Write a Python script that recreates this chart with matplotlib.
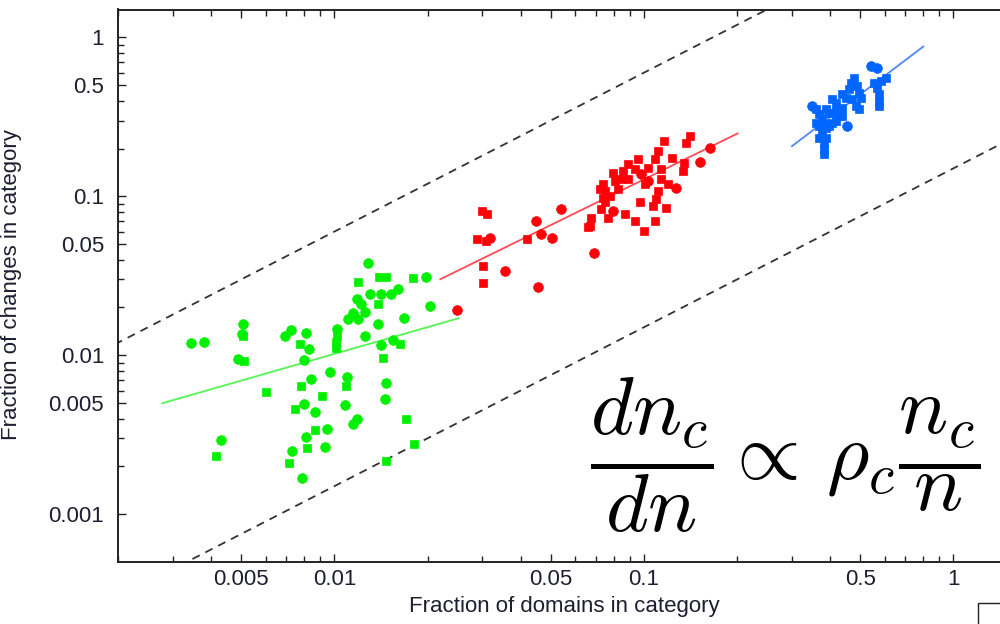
import matplotlib

matplotlib.use("Agg")
import matplotlib.pyplot as plt
import numpy as np
from matplotlib.patches import Rectangle
from matplotlib.ticker import FixedLocator, FuncFormatter, NullFormatter

plt.rcParams["font.family"] = ["Liberation Sans", "DejaVu Sans"]
plt.rcParams["mathtext.fontset"] = "cm"

# small categories (green)
green_sq_x = [0.00508, 0.00512, 0.00603, 0.00416, 0.00776, 0.00782, 0.00748, 0.00868,
              0.00818, 0.00716, 0.0119, 0.0139, 0.0147, 0.0179, 0.0138, 0.0102, 0.01015,
              0.01015, 0.0163, 0.0144, 0.0109, 0.00915, 0.0170, 0.0181, 0.0147]
green_sq_y = [0.0132, 0.00917, 0.00585, 0.00234, 0.0117, 0.00638, 0.00457, 0.00337,
              0.00259, 0.00209, 0.0288, 0.031, 0.031, 0.0306, 0.021, 0.0132, 0.0122,
              0.0111, 0.0117, 0.00957, 0.00638, 0.00552, 0.00395, 0.00275, 0.00215]
green_ci_x = [0.00345, 0.0038, 0.00508, 0.00505, 0.0049, 0.00431, 0.00726, 0.00695,
              0.00812, 0.0083, 0.0080, 0.00843, 0.0080, 0.00868, 0.00812, 0.00732,
              0.00788, 0.0128, 0.0198, 0.0161, 0.0153, 0.0141, 0.0130, 0.0118, 0.0122,
              0.0115, 0.0126, 0.0111, 0.0119, 0.0138, 0.0168, 0.0204, 0.0102, 0.0126,
              0.0142, 0.0155, 0.00971, 0.0110, 0.0147, 0.0108, 0.0146, 0.0118, 0.0115,
              0.00949, 0.00935]
green_ci_y = [0.0119, 0.0121, 0.0157, 0.0136, 0.00944, 0.00291, 0.0144, 0.0132,
              0.0138, 0.0109, 0.0093, 0.00706, 0.00491, 0.00437, 0.00304, 0.00248,
              0.00168, 0.038, 0.031, 0.0261, 0.0242, 0.0242, 0.0242, 0.0225, 0.021,
              0.0184, 0.0187, 0.0169, 0.0169, 0.0157, 0.0171, 0.0204, 0.0146, 0.0132,
              0.0116, 0.0124, 0.00782, 0.00727, 0.00666, 0.00484, 0.00528, 0.00395,
              0.00367, 0.00342, 0.00263]

# medium categories (red)
red_sq_x = [0.0299, 0.0312, 0.0290, 0.0308, 0.0303, 0.0303, 0.0420, 0.0677, 0.0672,
            0.0662, 0.0729, 0.0768, 0.0871, 0.0939, 0.1004, 0.0974, 0.109, 0.118,
            0.1073, 0.1097, 0.111, 0.120, 0.114, 0.114, 0.134, 0.135, 0.141, 0.137,
            0.116, 0.111, 0.109, 0.123, 0.096, 0.0891, 0.0859, 0.0846, 0.0939, 0.101,
            0.0809, 0.0740, 0.0751, 0.0779, 0.0740, 0.0723, 0.0891, 0.0827, 0.0797,
            0.0751, 0.1034]
red_sq_y = [0.0808, 0.0773, 0.0538, 0.0523, 0.0364, 0.0284, 0.0538, 0.0730, 0.0650,
            0.0641, 0.0832, 0.0730, 0.0773, 0.0699, 0.0604, 0.092, 0.0699, 0.0844,
            0.0869, 0.0962, 0.108, 0.120, 0.129, 0.149, 0.144, 0.162, 0.240, 0.217,
            0.223, 0.193, 0.172, 0.174, 0.172, 0.160, 0.144, 0.129, 0.149, 0.120,
            0.125, 0.120, 0.108, 0.100, 0.0975, 0.111, 0.129, 0.111, 0.140, 0.092,
            0.151]
red_ci_x = [0.0250, 0.0319, 0.0357, 0.0449, 0.0467, 0.0506, 0.0541, 0.0456, 0.0692,
            0.0797, 0.127, 0.152, 0.164, 0.0982, 0.1034]
red_ci_y = [0.0192, 0.0546, 0.0338, 0.0699, 0.0579, 0.0546, 0.0832, 0.0268, 0.0439,
            0.0808, 0.113, 0.164, 0.2015, 0.138, 0.125]

# large categories (blue)
blue_sq_x = [0.583, 0.605, 0.553, 0.566, 0.574, 0.574, 0.574, 0.477, 0.467, 0.488,
             0.495, 0.502, 0.460, 0.436, 0.449, 0.405, 0.417, 0.470, 0.484, 0.495,
             0.360, 0.368, 0.376, 0.387, 0.396, 0.417, 0.427, 0.436, 0.382, 0.396,
             0.405, 0.417, 0.376, 0.387, 0.368, 0.382, 0.382, 0.382, 0.360, 0.436,
             0.387, 0.368, 0.405]
blue_sq_y = [0.536, 0.552, 0.520, 0.484, 0.444, 0.401, 0.373, 0.552, 0.520, 0.498,
             0.450, 0.419, 0.477, 0.444, 0.419, 0.413, 0.389, 0.413, 0.373, 0.357,
             0.357, 0.332, 0.313, 0.357, 0.337, 0.347, 0.3225, 0.362, 0.287, 0.279,
             0.291, 0.300, 0.252, 0.234, 0.234, 0.218, 0.200, 0.186, 0.291, 0.3225,
             0.271, 0.279, 0.337]
blue_ci_x = [0.541, 0.566, 0.349, 0.453]
blue_ci_y = [0.666, 0.647, 0.373, 0.279]

# fitted power laws, end points
green_fit_x = [0.00278, 0.0252]
green_fit_y = [0.00499, 0.0171]
red_fit_x = [0.0220, 0.201]
red_fit_y = [0.0301, 0.249]
blue_fit_x = [0.301, 0.80]
blue_fit_y = [0.207, 0.877]

# dashed bounds y = k * x
bound_k = [6.0, 0.15]

x_major = [0.005, 0.01, 0.05, 0.1, 0.5, 1]
y_major = [0.001, 0.005, 0.01, 0.05, 0.1, 0.5, 1]

GREEN = "#00f000"
RED = "#ff0008"
BLUE = "#0066ff"
INK = "#1e1e30"


def minor_ticks(major):
    out = []
    for e in (-3, -2, -1):
        for m in range(2, 10):
            v = m * 10.0 ** e
            if not any(np.isclose(v, t) for t in major):
                out.append(v)
    return out


def main():
    fig = plt.figure(figsize=(10, 6.24), dpi=100)
    ax = fig.add_axes([0.118, 1 - 562 / 624, 0.9285, 552.5 / 624])
    ax.set_xscale("log")
    ax.set_yscale("log")

    xs = np.array([0.001, 3.0])
    for k in bound_k:
        ax.plot(xs, k * xs, color="#333333", lw=1.3, dashes=(4.5, 3.5), zorder=1)

    for fx, fy, c in ((green_fit_x, green_fit_y, "#55f555"),
                      (red_fit_x, red_fit_y, "#ff4d55"),
                      (blue_fit_x, blue_fit_y, "#4d88ff")):
        ax.plot(fx, fy, color=c, lw=1.3, zorder=2)

    for x, y, c in ((green_sq_x, green_sq_y, GREEN), (red_sq_x, red_sq_y, RED),
                    (blue_sq_x, blue_sq_y, BLUE)):
        ax.plot(x, y, ls="none", marker="s", ms=6.0, mfc=c, mec=c, mew=0.5, zorder=3)
    for x, y, c in ((green_ci_x, green_ci_y, GREEN), (red_ci_x, red_ci_y, RED),
                    (blue_ci_x, blue_ci_y, BLUE)):
        ax.plot(x, y, ls="none", marker="o", ms=7.0, mfc=c, mec=c, mew=0.5, zorder=3)

    ax.set_xlim(0.002, 2)
    ax.set_ylim(0.0005, 1.5)

    ax.xaxis.set_major_locator(FixedLocator(x_major))
    ax.xaxis.set_minor_locator(FixedLocator(minor_ticks(x_major)))
    ax.yaxis.set_major_locator(FixedLocator(y_major))
    ax.yaxis.set_minor_locator(FixedLocator(minor_ticks(y_major)))
    fmt = FuncFormatter(lambda v, _: "%g" % v)
    ax.xaxis.set_major_formatter(fmt)
    ax.yaxis.set_major_formatter(fmt)
    ax.xaxis.set_minor_formatter(NullFormatter())
    ax.yaxis.set_minor_formatter(NullFormatter())

    ax.tick_params(which="both", direction="in", top=True, right=True,
                   color="#222222", width=1.0, labelsize=16, labelcolor=INK)
    ax.tick_params(which="major", length=6)
    ax.tick_params(which="minor", length=4)
    ax.tick_params(axis="x", pad=5)
    ax.tick_params(axis="y", pad=10)
    for s in ax.spines.values():
        s.set_linewidth(1.4)
        s.set_color("#222222")

    ax.set_xlabel("Fraction of domains in category", fontsize=16, color=INK)
    ax.set_ylabel("Fraction of changes in category", fontsize=16, color=INK)
    ax.xaxis.set_label_coords(0.481, -0.0615)
    ax.yaxis.set_label_coords(-0.103, 0.502)

    fig.text(0.59, 1 - 455 / 624,
             r"$\dfrac{dn_c}{dn}\propto\,\rho_c\dfrac{n_c}{n}$",
             fontsize=59, ha="left", va="center", color="black")

    fig.add_artist(Rectangle((0.978, -0.05), 0.06, 0.0837, transform=fig.transFigure,
                             fill=False, lw=1.0, ec="#222222"))

    fig.savefig("out.png", dpi=100)
    plt.close(fig)


if __name__ == "__main__":
    main()
